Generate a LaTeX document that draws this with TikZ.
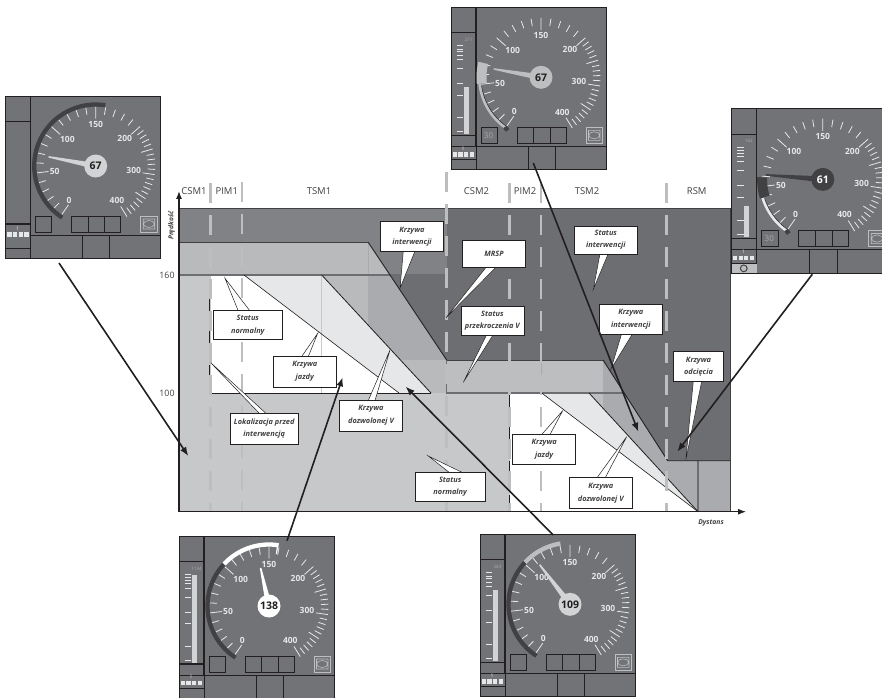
\documentclass[tikz,border=0pt]{standalone}
\usepackage{fontspec}
\setmainfont{Open Sans}
\usetikzlibrary{arrows.meta,shadows}
\definecolor{ink}{HTML}{231F20}
\definecolor{dial}{HTML}{727376}
\definecolor{zonedark}{HTML}{6D6E71}
\definecolor{zonetop}{HTML}{808285}
\definecolor{band}{HTML}{A9ABAE}
\definecolor{bandlight}{HTML}{B8BABC}
\definecolor{overspeed}{HTML}{BCBEC0}
\definecolor{pale}{HTML}{E6E7E8}
\definecolor{normal}{HTML}{C7C8CA}
\definecolor{arcdark}{HTML}{414042}
\definecolor{needle}{HTML}{D1D3D4}
\tikzset{
  calloutbox/.style={draw=ink,line width=.5pt,fill=white,align=center,inner sep=0pt,
    font=\fontsize{7.4}{12.5}\selectfont\bfseries\itshape,text=arcdark,
    drop shadow={shadow xshift=.6pt,shadow yshift=-.6pt,fill=ink!70,opacity=1}},
  pointer/.style={draw=ink,line width=.5pt,fill=white},
  sectionlabel/.style={font=\fontsize{9.5}{11}\selectfont,text=arcdark},
  axislabel/.style={font=\fontsize{8.8}{10}\selectfont,text=arcdark,inner sep=0pt},
  splitline/.style={overspeed,dash pattern=on 20pt off 12pt},
  bigarrow/.style={-{Latex[length=9pt,width=7pt]},ink,line width=1.6pt},
  gaugeline/.style={ink,line width=.8pt},
  ticklabel/.style={font=\fontsize{8.5}{9}\selectfont\bfseries,text=pale,inner sep=0pt},
  hubtext/.style={font=\fontsize{10.5}{11}\selectfont\bfseries,inner sep=0pt}
}
\newcommand{\callout}[9]{
  \coordinate (#1tip) at (#7);
  \draw[pointer] (#1tip)--(#8)--(#9)--cycle;
  \node[calloutbox,minimum width=#4pt,minimum height=#5pt] (#1) at (#2,#3) {#6};
}
\newcommand{\gaugebase}[2]{
  \fill[dial] (0,0) rectangle (155,162);
  \draw[gaugeline] (0,0) rectangle (155,162);
  \draw[gaugeline,line width=1.1pt] (25,0)--(25,139);
  \draw[gaugeline] (0,25.5)--(25,25.5);
  \draw[gaugeline,line width=1.1pt] (0,128)--(25,128);
  \draw[gaugeline] (#2,139)--(155,139);
  \draw[gaugeline] (0,152)--(25,152);
  \draw[gaugeline] (25,162)--(25,139);
  \draw[gaugeline] (77,139)--(77,162) (104,139)--(104,162);
  \draw[gaugeline] (30,120) rectangle (46,136);
  \draw[gaugeline] (66,120) rectangle (115,136) (82.3,120)--(82.3,136) (99,120)--(99,136);
  \draw[overspeed,line width=.8pt,fill=dial] (135,120) rectangle (151.5,136);
  \draw[overspeed,line width=.6pt] (137.5,123) rectangle (149,133) (143.2,128) ellipse (5.5 and 3.5);
  \begin{scope}[shift={(90,70)}]
    \foreach \v in {0,10,...,400}{
      \pgfmathsetmacro{\b}{\v<=200 ? -145+0.9667*\v : 48.3+0.5*(\v-200)}
      \pgfmathsetmacro{\r}{int(mod(\v,50))==0 ? 47.5 : 52}
      \draw[pale,line width=.8pt] ({\r*sin(\b)},{-\r*cos(\b)})--({59.5*sin(\b)},{-59.5*cos(\b)});
    }
    \foreach \l/\dx/\dy in {0/-26.7/34,50/-41/5.7,100/-28.3/-27,150/0/-41.7,200/29/-27.7,300/38/4,400/21.3/34.7}
      \node[ticklabel] (#1n\l) at (\dx,\dy) {\l};
  \end{scope}
}
\newcommand{\speedbar}[3]{
  \foreach \y in {38.3,41.7,44.3,47.7,52,61,76,87.7,110,124.3}
    \draw[pale,line width=.7pt] (5.7,\y)--(12.3,\y);
  \fill[needle] (13,#2) rectangle (18,126.5);
  \node[font=\fontsize{4.5}{5}\selectfont,text=band,inner sep=0pt] (#1val) at (17.5,32.5) {#3};
}
\newcommand{\cabsquares}[2]{
  \foreach \i/\x in {1/3.8,2/9.5,3/15,4/20.8}
    \fill[pale] (\x-2.1,#2-2.2) rectangle (\x+2.1,#2+2.2);
  \node[font=\fontsize{5}{5}\selectfont,text=pale,inner sep=0pt] (#1one) at (12,#2-6) {1};
}
\newcommand{\dialarc}[4]{
  \draw[#3,line width=#4pt] plot[domain=#1:#2,samples=40,variable=\b] ({61.5*sin(\b)},{-61.5*cos(\b)});
}
\newcommand{\dialneedle}[5]{
  \fill[#4] ({#1*sin(#2)+.8*cos(#2)},{-#1*cos(#2)+.8*sin(#2)})--({#1*sin(#2)-.8*cos(#2)},{-#1*cos(#2)-.8*sin(#2)})--({-3*cos(#2)},{-3*sin(#2)})--({3*cos(#2)},{3*sin(#2)})--cycle;
  \node[circle,fill=#4,minimum size=23pt,inner sep=0pt,hubtext,text=#5] (#3) at (0,0) {#3};
}
\newcommand{\arcend}{
  \fill[arcdark,shift={({62*sin(-146)},{-62*cos(-146)})},rotate=35] (-2.2,-2.2) rectangle (2.2,2.2);
}
\begin{document}
\begin{tikzpicture}[x=1pt,y=-1pt,font=\sffamily,>=Latex]
  \path[use as bounding box,clip] (0,0) rectangle (882,697);
  \fill[white] (0,0) rectangle (882,697);

  \fill[zonedark] (179,208) rectangle (730,511.7);
  \fill[zonetop] (179,208) rectangle (446.7,275);
  \fill[band] (321.7,275)--(390.2,275)--(446.7,360)--(603,360)--(667.7,460.7)--(730,460.7)--(730,511.7)--(698,511.7)--(589,393)--(431,393)--cycle;
  \fill[bandlight] (179,242)--(368,242)--(390.2,275)--(179,275)--cycle;
  \fill[bandlight] (321.7,275)--(368,275)--(368,325)--cycle;
  \fill[bandlight] (400.4,360)--(446.7,360)--(446.7,393)--(431,393)--cycle;
  \fill[overspeed] (446.7,360) rectangle (603,393);
  \fill[overspeed] (589,393)--(603,393)--(603,408.2)--cycle;
  \fill[pale] (244,275)--(321.7,275)--(431,393)--(399,393)--cycle;
  \fill[pale] (541.7,393)--(589,393)--(698,511.7)--cycle;
  \fill[white] (210.7,275)--(244,275)--(399,393)--(210.7,393)--cycle;
  \fill[white] (509.5,393)--(541.7,393)--(698,511.7)--(509.5,511.7)--cycle;
  \fill[normal] (179,275) rectangle (210.7,393);
  \fill[normal] (179,393) rectangle (509.5,511.7);
  \draw[normal,line width=.6pt] (321.7,275)--(321.7,393);
  \draw[band,line width=.6pt] (541.7,360)--(541.7,393);
  \draw[band,line width=.8pt] (368,242)--(368,275);

  \draw[arcdark,line width=.9pt] (179,208)--(730,208)--(730,511.7);
  \draw[arcdark,line width=.9pt] (179,242)--(368,242);
  \draw[zonedark,line width=1.5pt] (179,275)--(446.7,275)--(446.7,393)--(698,393)--(698,511.7);
  \draw[arcdark,line width=.5pt] (446.7,360)--(603,360);
  \draw[ink,line width=.9pt] (368,242)--(446.7,360);
  \draw[ink,line width=.9pt] (603,360)--(667.7,460.7)--(730,460.7);
  \draw[ink,line width=.8pt] (321.7,275)--(431,393);
  \draw[ink,line width=.8pt] (589,393)--(698,511.7);
  \draw[ink,line width=.6pt] (244,275)--(399,393);
  \draw[ink,line width=.6pt] (541.7,393)--(698,511.7);
  \draw[ink,line width=.7pt] (210.7,393)--(431,393);
  \draw[ink,line width=.6pt,dash pattern=on 14pt off 3pt] (209.5,297)--(209.5,393);
  \draw[ink,line width=.6pt,dash pattern=on 14pt off 3pt] (509,393)--(509,511.7);

  \draw[splitline,line width=3pt] (210.7,183)--(210.7,511.7);
  \draw[splitline,line width=2pt] (242,182)--(242,511.7);
  \draw[splitline,line width=3pt] (446.7,172)--(446.7,511.7);
  \draw[splitline,line width=3pt] (509.7,183)--(509.7,511.7);
  \draw[splitline,line width=2pt] (541,183)--(541,511.7);
  \draw[splitline,line width=3pt] (666.7,183)--(666.7,511.7);

  \coordinate (origin) at (179,511.7);
  \coordinate (speedend) at (179,191);
  \coordinate (distend) at (746,511.7);
  \draw[->,ink,line width=1.1pt] (origin)--(speedend);
  \draw[->,ink,line width=1.1pt] (origin)--(distend);

  \node[sectionlabel] (csm1) at (194,190.7) {CSM1};
  \node[sectionlabel] (pim1) at (226.8,190.7) {PIM1};
  \node[sectionlabel] (tsm1) at (319,190.7) {TSM1};
  \node[sectionlabel] (csm2) at (476.5,190.7) {CSM2};
  \node[sectionlabel] (pim2) at (525,190.7) {PIM2};
  \node[sectionlabel] (tsm2) at (587,190.7) {TSM2};
  \node[sectionlabel] (rsm) at (696.7,190.7) {RSM};
  \node[font=\fontsize{6.8}{7}\selectfont\bfseries\itshape,text=arcdark,rotate=90,inner sep=0pt] (speedlabel) at (171.5,225.5) {Prędkość};
  \node[axislabel] (v160) at (167,275) {160};
  \node[axislabel] (v100) at (167,393) {100};
  \node[font=\fontsize{6.8}{7}\selectfont\bfseries\itshape,text=arcdark,inner sep=0pt] (distlabel) at (711,523) {Dystans};

  \callout{krzint1}{412}{236.7}{62.6}{30}{Krzywa\\interwencji}{400,288.3}{403.3,251}{415,251}
  \callout{statnorm1}{247.8}{325}{69}{28.6}{Status\\normalny}{225,278.3}{238.3,311}{250,311}
  \callout{krzjazdy1}{304.8}{371.4}{63}{30.7}{Krzywa\\jazdy}{317.7,333.3}{301.7,356.5}{308.3,356.5}
  \callout{lokal}{264.2}{428.7}{68.3}{30.7}{Lokalizacja przed\\interwencją}{210.7,362.7}{260,414}{266.7,414}
  \callout{krzdoz1}{371}{415.4}{63.4}{30.7}{Krzywa\\dozwolonej V}{390,350}{368.3,400.5}{375,400.5}
  \callout{statnorm2}{450.2}{486.8}{69.7}{29}{Status\\normalny}{428.3,456}{450,473}{463.3,473}
  \callout{mrsp}{494}{253.7}{62.6}{26.7}{MRSP}{446,317.7}{486.7,266.5}{496.7,266.5}
  \callout{statprz}{492.4}{320.5}{63.3}{29}{Status\\przekroczenia V}{463.3,382.3}{486.7,334.5}{493.3,334.5}
  \callout{statint}{605.8}{239.9}{63}{28.3}{Status\\interwencji}{593.3,289.3}{600,253.5}{608.3,253.5}
  \callout{krzint2}{630.8}{319.2}{63}{29.7}{Krzywa\\interwencji}{611,369}{621.7,333.5}{632.7,333.5}
  \callout{krzodc}{698.5}{366.7}{50.4}{30}{Krzywa\\odcięcia}{685.7,460.7}{693.3,381}{701.7,381}
  \callout{krzjazdy2}{544.2}{449.2}{63}{30.3}{Krzywa\\jazdy}{562.7,410.7}{541.7,434.5}{550,434.5}
  \callout{krzdoz2}{600.8}{493}{63}{30.6}{Krzywa\\dozwolonej V}{626.7,436.7}{596.7,478.2}{605,478.2}

  \begin{scope}[shift={(5.7,96)}]
    \gaugebase{gleft}{25}
    \cabsquares{gleft}{138.5}
    \begin{scope}[shift={(90,70)}]
      \dialarc{-147}{9}{arcdark}{4.3}
      \dialneedle{48}{-79}{67}{needle}{ink}
    \end{scope}
    \coordinate (gleftout) at (53.3,167);
  \end{scope}

  \begin{scope}[shift={(451,7.3)}]
    \gaugebase{gtop}{0}
    \speedbar{gtop}{79.3}{271}
    \cabsquares{gtop}{147}
    \node[font=\fontsize{8}{9}\selectfont,text=band,inner sep=0pt] (gtopthirty) at (37.5,128) {30};
    \begin{scope}[shift={(90,70)}]
      \dialarc{-145}{-96}{overspeed}{3}
      \draw[ink,line width=.5pt] plot[domain=-145:-98,samples=30,variable=\b] ({60*sin(\b)},{-60*cos(\b)});
      \draw[overspeed,line width=10pt] plot[domain=-96:-76,samples=20,variable=\b] ({59.5*sin(\b)},{-59.5*cos(\b)});
      \arcend
      \dialneedle{48}{-80}{67}{overspeed}{ink}
    \end{scope}
    \coordinate (gtopout) at (82.3,155.7);
  \end{scope}

  \begin{scope}[shift={(731,108)},scale=1.02]
    \gaugebase{gright}{0}
    \speedbar{gright}{96}{162}
    \cabsquares{gright}{147}
    \fill[overspeed] (0.5,153) rectangle (25,161.5);
    \draw[arcdark,line width=1pt] (12.5,157.2) circle (3.3);
    \node[font=\fontsize{8}{9}\selectfont,text=band,inner sep=0pt] (grightthirty) at (37.5,128) {30};
    \begin{scope}[shift={(90,70)}]
      \dialarc{-145}{-107}{pale}{3}
      \draw[ink,line width=.5pt] plot[domain=-145:-108,samples=30,variable=\b] ({60*sin(\b)},{-60*cos(\b)});
      \draw[arcdark,line width=10pt] plot[domain=-107:-88,samples=20,variable=\b] ({59.5*sin(\b)},{-59.5*cos(\b)});
      \arcend
      \dialneedle{56}{-85.5}{61}{arcdark}{white}
    \end{scope}
    \coordinate (grightout) at (79.7,163);
  \end{scope}

  \begin{scope}[shift={(179,536)}]
    \gaugebase{gleftlow}{0}
    \speedbar{gleftlow}{39}{1134}
    \cabsquares{gleftlow}{147}
    \begin{scope}[shift={(90,70)}]
      \dialarc{-147}{-47}{arcdark}{4.3}
      \dialarc{-47}{9}{white}{4.3}
      \draw[white,line width=1.2pt] (8.5,-60)--(7.5,-52);
      \dialneedle{39}{-12.5}{138}{white}{ink}
    \end{scope}
    \coordinate (gleftlowout) at (108,4.7);
  \end{scope}

  \begin{scope}[shift={(480,534.3)}]
    \gaugebase{grightlow}{0}
    \speedbar{grightlow}{55.7}{583}
    \cabsquares{grightlow}{147}
    \begin{scope}[shift={(90,70)}]
      \dialarc{-147}{-47}{arcdark}{4.3}
      \dialarc{-47}{-9}{overspeed}{4.3}
      \dialneedle{50}{-37.5}{109}{needle}{ink}
    \end{scope}
    \coordinate (grightlowout) at (73.3,0.7);
  \end{scope}

  \coordinate (tipleft) at (188.3,456);
  \coordinate (tiptop) at (638.3,431.7);
  \coordinate (tipright) at (677.3,451.7);
  \coordinate (tipleftlow) at (342.7,377.3);
  \coordinate (tiprightlow) at (405.7,386.7);
  \draw[bigarrow] (gleftout)--(tipleft);
  \draw[bigarrow] (gtopout)--(tiptop);
  \draw[bigarrow] (grightout)--(tipright);
  \draw[bigarrow] (gleftlowout)--(tipleftlow);
  \draw[bigarrow] (grightlowout)--(tiprightlow);
\end{tikzpicture}
\end{document}
